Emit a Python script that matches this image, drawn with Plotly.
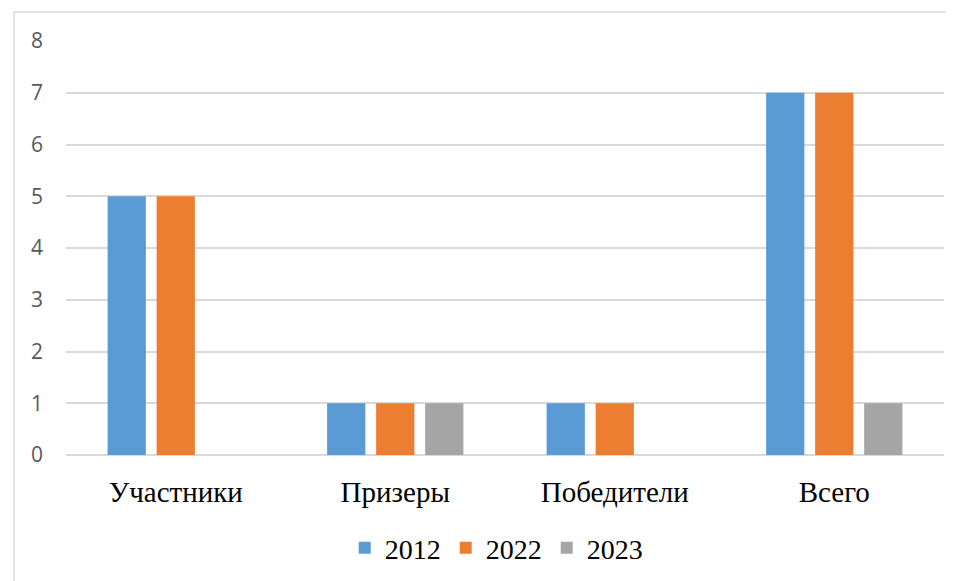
import plotly.graph_objects as go

categories = ["Участники", "Призеры", "Победители", "Всего"]
series_names = ["2012", "2022", "2023"]
values_2012 = [5, 1, 1, 7]
values_2022 = [5, 1, 1, 7]
values_2023 = [0, 1, 0, 1]
colors = ["#5B9BD5", "#ED7D31", "#A5A5A5"]
y_ticks = [0, 1, 2, 3, 4, 5, 6, 7, 8]

fig = go.Figure()
for name, vals, col in zip(series_names, [values_2012, values_2022, values_2023], colors):
    fig.add_trace(go.Bar(x=categories, y=vals, name=name, marker=dict(color=col, line=dict(width=0))))

OFF = 8  # page body margin
W, H = 954 - OFF, 581 - OFF
L, R, T, B = 66 - OFF, 10, 41 - OFF, 126
pw, ph = W - L - R, H - T - B

def px_x(x):
    return (x - OFF - L) / pw

def px_y(y):
    return (H - B - (y - OFF)) / ph

fig.update_layout(
    width=W, height=H,
    margin=dict(l=L, r=R, t=T, b=B, autoexpand=False),
    paper_bgcolor="white", plot_bgcolor="white",
    barmode="group", bargap=0.33, bargroupgap=0.22,
    showlegend=True,
    legend=dict(orientation="h", x=0.49, xanchor="center", y=px_y(548), yanchor="middle",
                font=dict(family="Liberation Serif", size=28, color="#000000"),
                itemwidth=30, tracegroupgap=0),
    xaxis=dict(tickfont=dict(family="Liberation Serif", size=29, color="#000000"),
               showgrid=False, showline=False, ticks="", ticklabelstandoff=17),
    yaxis=dict(range=[0, 8], tickvals=y_ticks, showgrid=True, gridcolor="#D9D9D9", gridwidth=1.5,
               zeroline=True, zerolinecolor="#D9D9D9", zerolinewidth=1.5,
               tickfont=dict(family="Open Sans", size=21, color="#595959"),
               ticks="", ticklabelstandoff=22, showline=False),
    shapes=[dict(type="rect", xref="paper", yref="paper",
                 x0=px_x(14), x1=px_x(954 + 20), y0=px_y(581 + 20), y1=px_y(12),
                 line=dict(color="#D9D9D9", width=1.5), fillcolor="rgba(0,0,0,0)", layer="below")],
)

fig.write_html("out.html")
